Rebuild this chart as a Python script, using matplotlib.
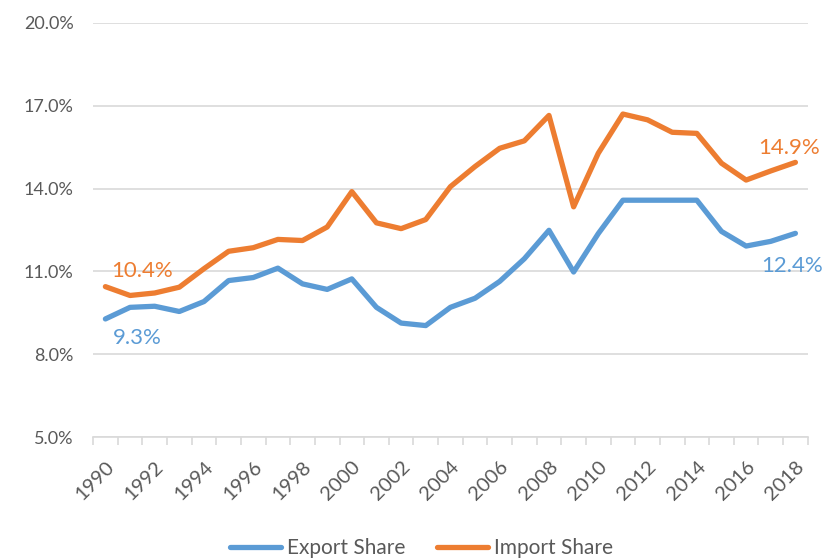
import matplotlib
matplotlib.use("Agg")
import matplotlib.pyplot as plt
from matplotlib.ticker import FixedLocator, FuncFormatter

years = list(range(1990, 2019))
export_share = [9.28, 9.70, 9.74, 9.55, 9.91, 10.67, 10.78, 11.12, 10.55, 10.35,
                10.73, 9.70, 9.13, 9.04, 9.70, 10.03, 10.64, 11.46, 12.49, 10.98,
                12.37, 13.58, 13.58, 13.58, 13.58, 12.45, 11.92, 12.09, 12.38]
import_share = [10.45, 10.13, 10.22, 10.43, 11.10, 11.73, 11.86, 12.16, 12.12, 12.61,
                13.89, 12.76, 12.55, 12.88, 14.07, 14.80, 15.46, 15.73, 16.65, 13.34,
                15.28, 16.70, 16.49, 16.04, 16.00, 14.92, 14.31, 14.64, 14.95]
y_ticks = [5, 8, 11, 14, 17, 20]
x_labels = [str(y) for y in years[::2]]

BLUE = "#5B9BD5"
ORANGE = "#ED7D31"
GRAY = "#595959"
FONT = ["Lato", "DejaVu Sans"]
plt.rcParams['font.family'] = FONT

fig = plt.figure(figsize=(8.31, 5.59), dpi=100)
ax = fig.add_axes([0.112, 0.218, 0.860, 0.741])

x = list(range(len(years)))
ax.plot(x, export_share, color=BLUE, lw=3.8, solid_capstyle='round', solid_joinstyle='round', label="Export Share")
ax.plot(x, import_share, color=ORANGE, lw=3.8, solid_capstyle='round', solid_joinstyle='round', label="Import Share")

ax.set_xlim(-0.5, len(years) - 0.5)
ax.set_ylim(5, 20)
ax.set_yticks(y_ticks)
ax.yaxis.set_major_formatter(FuncFormatter(lambda v, p: f"{v:.1f}%"))
ax.grid(axis='y', color='#D9D9D9', lw=1.2)
ax.set_axisbelow(True)
for s in ['top', 'right', 'left']:
    ax.spines[s].set_visible(False)
ax.spines['bottom'].set_color('#D9D9D9')
ax.spines['bottom'].set_linewidth(1.2)
ax.tick_params(axis='y', length=0, pad=14, labelsize=13, labelcolor=GRAY)

ax.set_xticks(x[::2])
ax.set_xticklabels(x_labels, rotation=45, ha='right', va='top', rotation_mode='anchor')
ax.tick_params(axis='x', which='major', length=0, pad=15, labelsize=14.5, labelcolor=GRAY)
ax.xaxis.set_minor_locator(FixedLocator([i - 0.5 for i in range(len(years) + 1)]))
ax.tick_params(axis='x', which='minor', length=6, width=1.2, color='#D9D9D9', direction='out')

# data labels
ax.annotate(f"{import_share[0]:.1f}%", (x[0], import_share[0]), xytext=(3.9, 11), textcoords='offset points',
            color=ORANGE, fontsize=16, ha='left', va='center')
ax.annotate(f"{export_share[0]:.1f}%", (x[0], export_share[0]), xytext=(5.5, -14), textcoords='offset points',
            color=BLUE, fontsize=16, ha='left', va='center')
ax.annotate(f"{import_share[-1]:.1f}%", (x[-1], import_share[-1]), xytext=(-27, 10), textcoords='offset points',
            color=ORANGE, fontsize=16, ha='left', va='center')
ax.annotate(f"{export_share[-1]:.1f}%", (x[-1], export_share[-1]), xytext=(-24.3, -23.5), textcoords='offset points',
            color=BLUE, fontsize=16, ha='left', va='center')

fig.legend(loc='center', bbox_to_anchor=(0.507, 0.02), ncol=2, frameon=False,
           fontsize=15, labelcolor=GRAY, handlelength=2.45, handletextpad=0.3, columnspacing=1.5)

fig.savefig("out.png", dpi=100)
